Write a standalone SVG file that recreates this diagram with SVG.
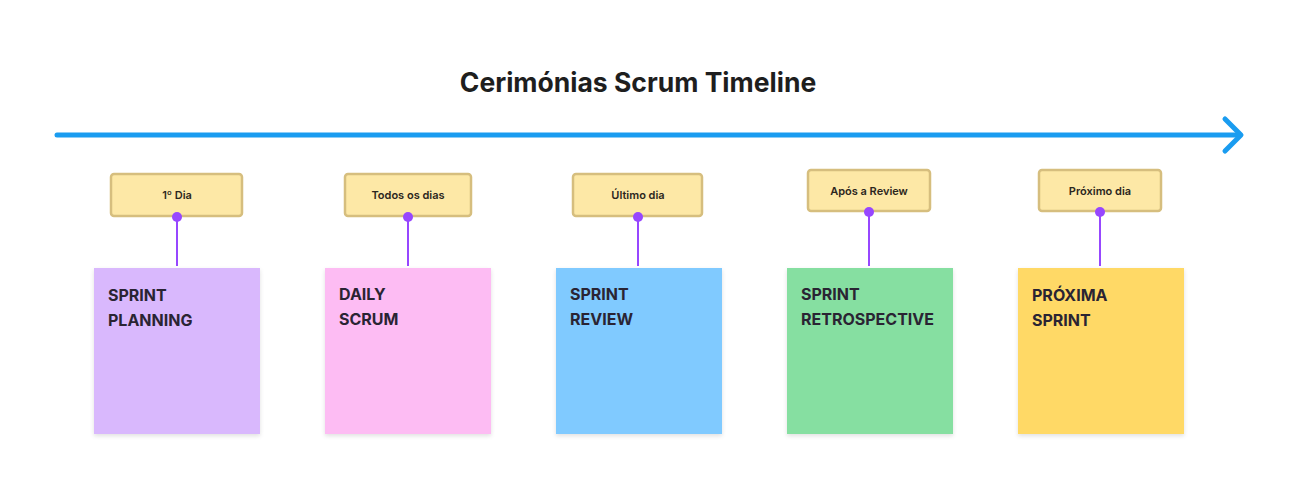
<svg xmlns="http://www.w3.org/2000/svg" width="1302" height="495" viewBox="0 0 1302 495">
<defs>
<filter id="sh" x="-10%" y="-10%" width="120%" height="125%">
<feDropShadow dx="0" dy="2" stdDeviation="2" flood-color="#000" flood-opacity="0.12"/>
</filter>
</defs>
<style>
.title{font-family:Inter,"Liberation Sans",sans-serif;font-weight:700;font-size:26.5px;fill:#1e1e1e}
.lbl rect{fill:#fde8a6;stroke:#d6be7e;stroke-width:2.5}
.lbl text{font-family:Inter,"Liberation Sans",sans-serif;font-weight:600;font-size:11px;fill:#2b2620;text-anchor:middle}
.sticky rect{filter:url(#sh)}
.sticky text{font-family:Inter,"Liberation Sans",sans-serif;font-weight:700;font-size:16px;fill:#2a2433}
.con line{stroke:#9747ff;stroke-width:2}
.con circle{fill:#9747ff}
</style>
<rect width="1302" height="495" fill="#ffffff"/>
<text class="title" x="638" y="92" text-anchor="middle">Cerimónias Scrum Timeline</text>
<g id="timeline">
<line x1="57" y1="135" x2="1238" y2="135" stroke="#1a9cf0" stroke-width="5" stroke-linecap="round"/>
<polyline points="1225,119 1241,135 1225,151" fill="none" stroke="#1a9cf0" stroke-width="5" stroke-linecap="round" stroke-linejoin="round"/>
</g>
<g id="sticky1" class="sticky"><rect x="94" y="268" width="166" height="166" fill="#d9b8fd"/><text x="108" y="301">SPRINT</text><text x="108" y="326">PLANNING</text></g>
<g id="sticky2" class="sticky"><rect x="325" y="268" width="166" height="166" fill="#fdbcf3"/><text x="339" y="300">DAILY</text><text x="339" y="325">SCRUM</text></g>
<g id="sticky3" class="sticky"><rect x="556" y="268" width="166" height="166" fill="#80caff"/><text x="570" y="300">SPRINT</text><text x="570" y="325">REVIEW</text></g>
<g id="sticky4" class="sticky"><rect x="787" y="268" width="166" height="166" fill="#86dfa1"/><text x="801" y="300">SPRINT</text><text x="801" y="325">RETROSPECTIVE</text></g>
<g id="sticky5" class="sticky"><rect x="1018" y="268" width="166" height="166" fill="#ffd966"/><text x="1032" y="301">PRÓXIMA</text><text x="1032" y="326">SPRINT</text></g>
<g id="label1" class="lbl"><rect x="111" y="174" width="131" height="42" rx="3"/><text x="177" y="199">1º Dia</text></g>
<g id="label2" class="lbl"><rect x="345" y="174" width="126" height="42" rx="3"/><text x="408" y="199">Todos os dias</text></g>
<g id="label3" class="lbl"><rect x="573" y="174" width="129" height="42" rx="3"/><text x="638" y="199">Último dia</text></g>
<g id="label4" class="lbl"><rect x="808" y="170" width="122" height="41" rx="3"/><text x="869" y="195">Após a Review</text></g>
<g id="label5" class="lbl"><rect x="1039" y="170" width="122" height="41" rx="3"/><text x="1100" y="195">Próximo dia</text></g>
<g id="connectors" class="con">
<line x1="177" y1="217" x2="177" y2="266"/><circle cx="177" cy="217" r="5"/>
<line x1="408" y1="217" x2="408" y2="266"/><circle cx="408" cy="217" r="5"/>
<line x1="638" y1="217" x2="638" y2="266"/><circle cx="638" cy="217" r="5"/>
<line x1="869" y1="212" x2="869" y2="266"/><circle cx="869" cy="212" r="5"/>
<line x1="1100" y1="212" x2="1100" y2="266"/><circle cx="1100" cy="212" r="5"/>
</g>
</svg>
